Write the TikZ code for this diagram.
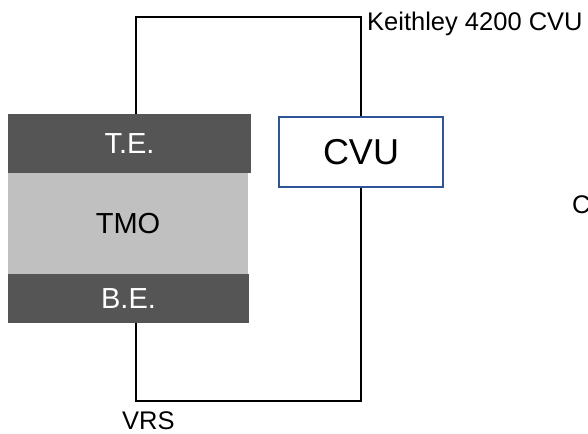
\documentclass[tikz,border=0pt]{standalone}
\usepackage{fontspec}
\setmainfont{Liberation Sans}
\definecolor{darklayer}{HTML}{555555}
\definecolor{lightlayer}{HTML}{C0C0C0}
\definecolor{boxblue}{HTML}{2F5597}
\begin{document}
\begin{tikzpicture}[x=1pt,y=1pt,
  layer/.style={anchor=north west, inner sep=0pt, outer sep=0pt, font=\fontsize{29}{29}\selectfont},
  wire/.style={line width=2pt, black},
  lbl/.style={anchor=base west, inner sep=0pt, font=\fontsize{25.5}{26}\selectfont}]
\useasboundingbox (0,0) rectangle (588,433);
% layer stack
\node[layer, fill=darklayer, text=white, minimum width=243pt, minimum height=59pt] (te) at (8,319) {T.E.};
\node[layer, fill=lightlayer, text=black, minimum width=240pt, minimum height=101pt] (tmo) at (8,260) {TMO};
\node[layer, fill=darklayer, text=white, minimum width=241pt, minimum height=49pt] (be) at (8,159) {B.E.};
% CVU box
\node[draw=boxblue, line width=1.5pt, fill=white, minimum width=164pt, minimum height=70pt, inner sep=0pt,
  font=\fontsize{36}{36}\selectfont] (cvu) at (361,281) {CVU};
% wire corners
\coordinate (tl) at (136,416);
\coordinate (tr) at (361,416);
\coordinate (bl) at (136,32);
\coordinate (br) at (361,32);
\draw[wire] (te.north -| tl) -- (tl) -- (tr) -- (cvu.north);
\draw[wire] (cvu.south) -- (br) -- (bl) -- (be.south -| bl);
% labels
\node[lbl] (keith) at (367,402) {Keithley 4200 CVU};
\node[lbl] (vrs) at (122,4) {VRS};
\node[lbl] (cc) at (572,219) {C};
\end{tikzpicture}
\end{document}
